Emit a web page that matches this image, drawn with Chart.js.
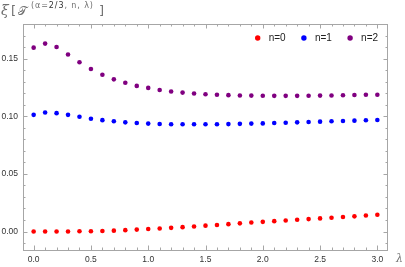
<!DOCTYPE html>
<html lang="en">
<head>
    <meta charset="UTF-8">
    <title>xi T chart</title>
    <script src="https://cdn.jsdelivr.net/npm/chart.js"></script>
    <style>
        body { margin: 0; background: #fff; }
        #wrap { position: relative; width: 405px; height: 267px; overflow: hidden; }
        #wrap span.lab { position: absolute; color: #707070; white-space: nowrap; line-height: 1; }
        .xi { left: 1px; top: 3px; font: italic 14px "DejaVu Serif"; }
        .br1 { left: 11px; top: 4px; font: 13px "DejaVu Sans"; }
        .tt { left: 18px; top: 5px; font: 12px "DejaVu Serif"; }
        .sup { left: 31px; top: 2px; font: 8px "DejaVu Sans"; letter-spacing: 0.9px; }
        .sup b { font-weight: normal; color: #333; }
        .br2 { left: 99px; top: 4px; font: 13px "DejaVu Sans"; }
        .lam { left: 396px; top: 253px; font: italic 11px "DejaVu Serif"; }
    </style>
</head>
<body>
<div id="wrap">
    <canvas id="chart" width="405" height="267"></canvas>
    <span class="lab xi">ξ</span>
    <span class="lab br1">[</span>
    <span class="lab tt">𝒯</span>
    <span class="lab sup">(α=<b>2/3</b>, n, λ)</span>
    <span class="lab br2">]</span>
    <span class="lab lam">λ</span>
</div>
<script>
    // data
    const lambdas = [0.0, 0.1, 0.2, 0.3, 0.4, 0.5, 0.6, 0.7, 0.8, 0.9, 1.0, 1.1, 1.2, 1.3, 1.4, 1.5,
                     1.6, 1.7, 1.8, 1.9, 2.0, 2.1, 2.2, 2.3, 2.4, 2.5, 2.6, 2.7, 2.8, 2.9, 3.0];
    const n0 = [0.0000, 0.0000, 0.0000, 0.0001, 0.0002, 0.0003, 0.0005, 0.0008, 0.0012, 0.0017, 0.0022,
                0.0027, 0.0032, 0.0038, 0.0044, 0.0051, 0.0057, 0.0064, 0.0071, 0.0078, 0.0084,
                0.0090, 0.0096, 0.0102, 0.0108, 0.0114, 0.0120, 0.0126, 0.0132, 0.0139, 0.0146];
    const n1 = [0.1012, 0.1033, 0.1027, 0.1012, 0.0995, 0.0978, 0.0966, 0.0956, 0.0947, 0.0941, 0.0936,
                0.0933, 0.0931, 0.0930, 0.0930, 0.0930, 0.0931, 0.0932, 0.0934, 0.0936, 0.0938,
                0.0941, 0.0944, 0.0947, 0.0950, 0.0953, 0.0956, 0.0959, 0.0962, 0.0965, 0.0968];
    const n2 = [0.1595, 0.1630, 0.1600, 0.1535, 0.1468, 0.1410, 0.1360, 0.1320, 0.1290, 0.1263, 0.1246,
                0.1228, 0.1215, 0.1205, 0.1197, 0.1191, 0.1187, 0.1183, 0.1180, 0.1179, 0.1178,
                0.1177, 0.1177, 0.1177, 0.1178, 0.1179, 0.1180, 0.1182, 0.1184, 0.1186, 0.1187];
    const seriesLabels = ['n=0', 'n=1', 'n=2'];
    const seriesColors = ['#ff0000', '#0000ff', '#800080'];

    const xTicks = [0.0, 0.5, 1.0, 1.5, 2.0, 2.5, 3.0];
    const yTicks = [0.00, 0.05, 0.10, 0.15];
    const yMinor = [-0.01, 0.00, 0.01, 0.02, 0.03, 0.04, 0.05, 0.06, 0.07, 0.08, 0.09,
                    0.10, 0.11, 0.12, 0.13, 0.14, 0.15, 0.16, 0.17];

    const toPoints = ys => lambdas.map((x, i) => ({ x: x, y: ys[i] }));

    // Mathematica style frame with inward ticks on all four sides
    const framePlugin = {
        id: 'frame',
        beforeDatasetsDraw(chart) {
            const ctx = chart.ctx;
            const a = chart.chartArea;
            const x = chart.scales.x, y = chart.scales.y;
            ctx.save();
            ctx.strokeStyle = '#a6a6a6';
            ctx.lineWidth = 1;
            ctx.strokeRect(a.left + 0.5, a.top + 0.5, a.right - a.left - 1, a.bottom - a.top);
            ctx.beginPath();
            const tickX = (v, len) => {
                const px = Math.round(x.getPixelForValue(v)) + 0.5;
                ctx.moveTo(px, a.bottom); ctx.lineTo(px, a.bottom - len);
                ctx.moveTo(px, a.top); ctx.lineTo(px, a.top + len);
            };
            const tickY = (v, len) => {
                const py = Math.round(y.getPixelForValue(v)) + 0.5;
                ctx.moveTo(a.left, py); ctx.lineTo(a.left + len, py);
                ctx.moveTo(a.right, py); ctx.lineTo(a.right - len, py);
            };
            lambdas.forEach(v => tickX(v, 2.5));
            xTicks.forEach(v => tickX(v, 4.5));
            yMinor.forEach(v => tickY(v, 2.5));
            yTicks.forEach(v => tickY(v, 4.5));
            ctx.stroke();
            ctx.restore();
        },
        afterDraw(chart) {
            // legend inside the plot, top right
            const ctx = chart.ctx;
            ctx.save();
            ctx.font = '10px "Liberation Sans"';
            ctx.textBaseline = 'middle';
            chart.data.datasets.forEach((ds, i) => {
                const cx = 257.7 + i * 46.2, cy = 38;
                ctx.fillStyle = ds.backgroundColor;
                ctx.beginPath();
                ctx.arc(cx, cy, 2.7, 0, Math.PI * 2);
                ctx.fill();
                ctx.fillStyle = '#222';
                ctx.fillText(ds.label, cx + 11, cy + 0.5);
            });
            ctx.restore();
        }
    };

    new Chart(document.getElementById('chart'), {
        type: 'scatter',
        data: {
            datasets: [n0, n1, n2].map((ys, i) => ({
                label: seriesLabels[i],
                data: toPoints(ys),
                backgroundColor: seriesColors[i],
                borderColor: seriesColors[i],
                pointRadius: 2.3,
                borderWidth: 0
            }))
        },
        options: {
            responsive: false,
            animation: false,
            devicePixelRatio: 1,
            layout: { padding: { top: 24, right: 17, left: 0, bottom: 0 } },
            plugins: { legend: { display: false }, tooltip: { enabled: false } },
            scales: {
                x: {
                    type: 'linear',
                    min: -0.093,
                    max: 3.093,
                    grid: { display: false, drawTicks: false },
                    border: { display: false },
                    afterFit: s => { s.height = 17; },
                    afterBuildTicks: s => { s.ticks = xTicks.map(v => ({ value: v })); },
                    ticks: {
                        padding: 5,
                        color: '#333',
                        font: { family: 'Liberation Sans', size: 8.5 },
                        maxRotation: 0,
                        callback: v => v.toFixed(1)
                    }
                },
                y: {
                    min: -0.016,
                    max: 0.18,
                    grid: { display: false, drawTicks: false },
                    border: { display: false },
                    afterFit: s => { s.width = 23; },
                    afterBuildTicks: s => { s.ticks = yTicks.map(v => ({ value: v })); },
                    ticks: {
                        padding: 5,
                        color: '#333',
                        font: { family: 'Liberation Sans', size: 8.5 },
                        callback: v => v.toFixed(2)
                    }
                }
            }
        },
        plugins: [framePlugin]
    });
</script>
</body>
</html>
